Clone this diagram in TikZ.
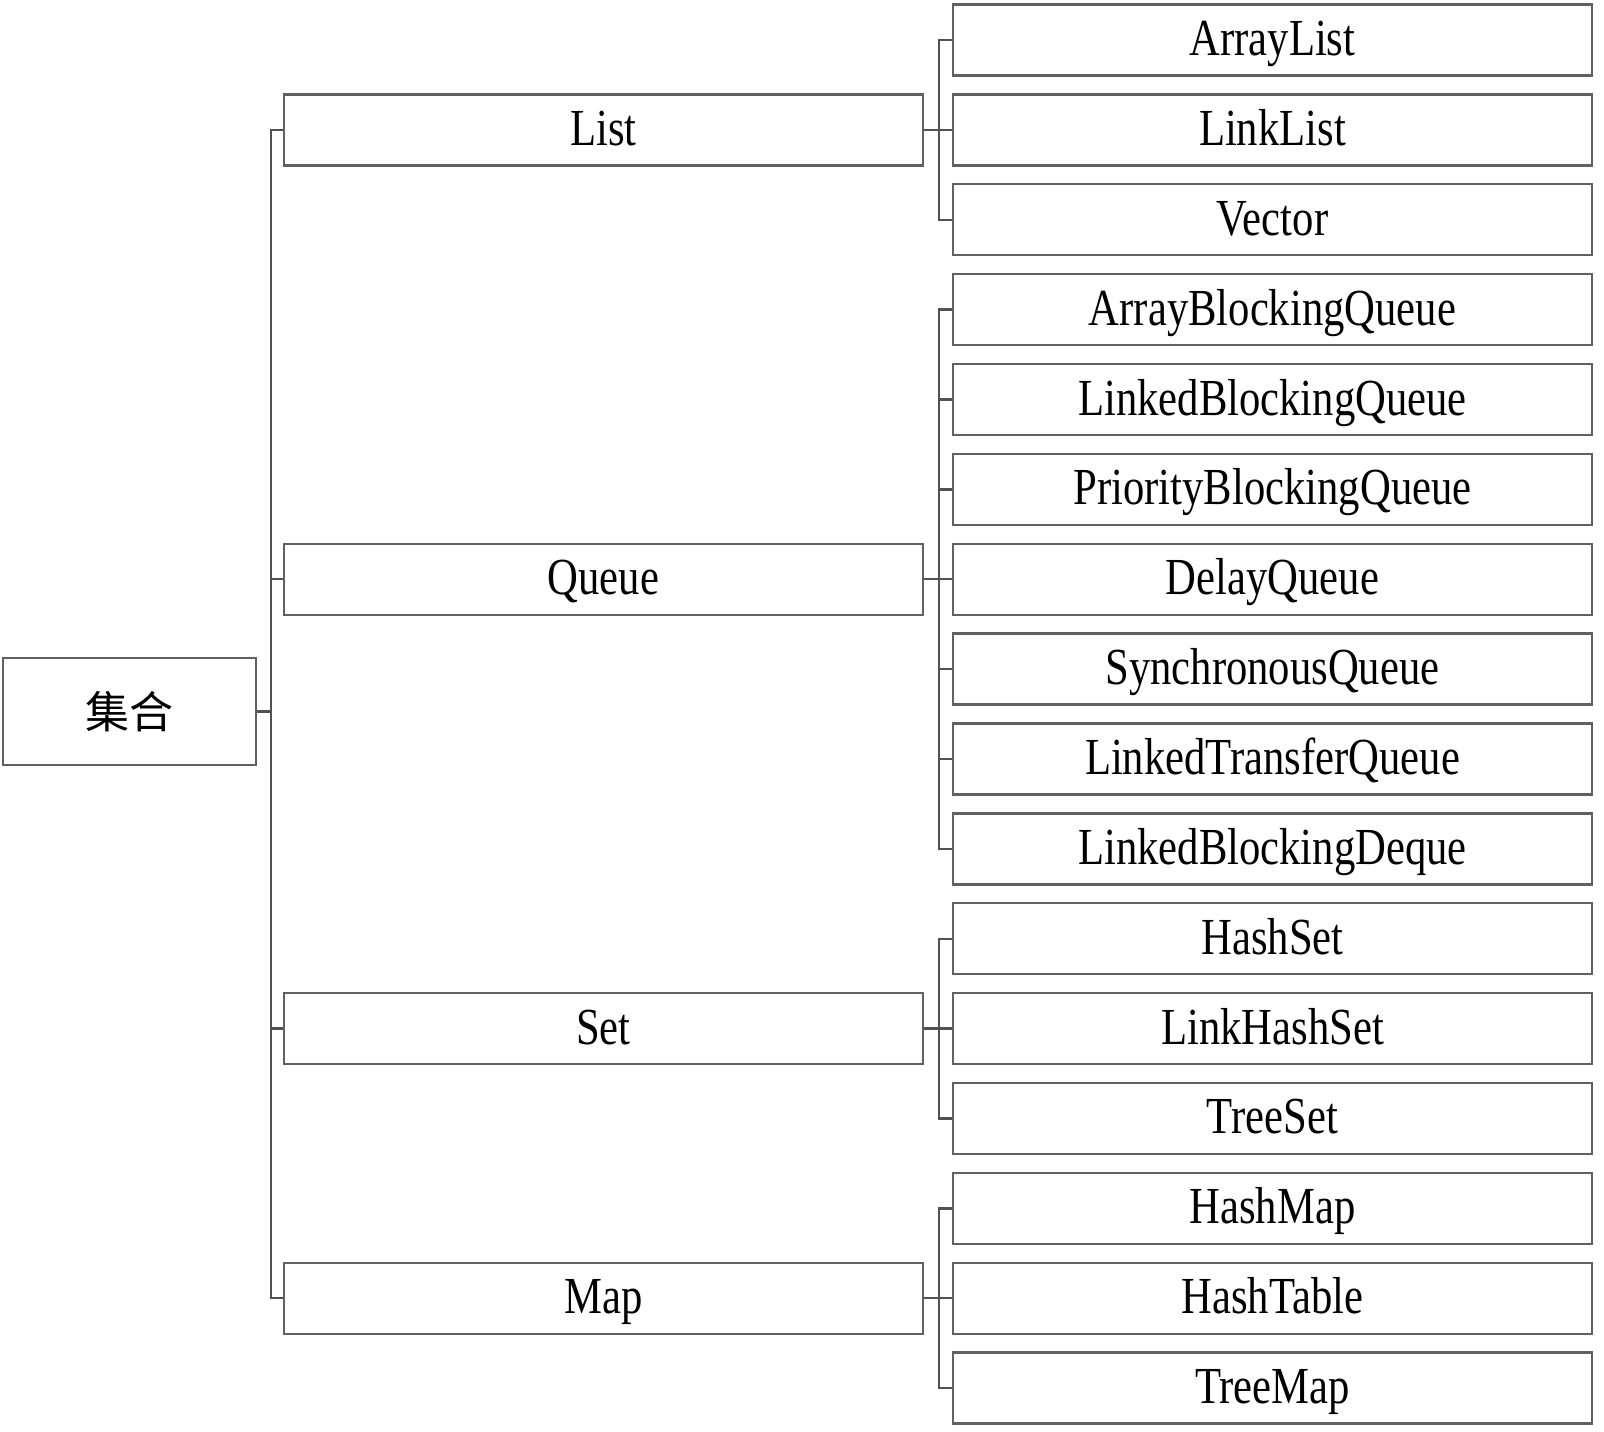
\documentclass[tikz,border=0pt]{standalone}
\usepackage{fontspec}
\setmainfont{Liberation Serif}[FakeStretch=0.82]
\newfontfamily\cjkfont{Noto Sans CJK SC}
\begin{document}
\begin{tikzpicture}[x=1pt,y=-1pt,
  box/.style={draw=black!62, line width=2.4pt, minimum width=639pt, minimum height=71pt,
    inner sep=0pt, text height=31pt, text depth=0pt, font=\fontsize{52}{58}\selectfont},
  rootbox/.style={draw=black!62, line width=2.4pt, minimum width=253pt, minimum height=107pt,
    inner sep=0pt, font=\cjkfont\fontsize{44}{50}\selectfont},
  conn/.style={draw=black!68, line width=2.4pt}]
\useasboundingbox (0,0) rectangle (1604,1432);
\node[rootbox] (root) at (129.5,711.5) {\raisebox{2pt}{集合}};
% middle level
\node[box] (list)  at (603.5,129.9) {List};
\node[box] (queue) at (603.5,579.2) {Queue};
\node[box] (set)   at (603.5,1028.6) {Set};
\node[box] (map)   at (603.5,1298.2) {Map};
% leaves
\node[box] (l0)  at (1272.5,40.0)   {ArrayList};
\node[box] (l1)  at (1272.5,129.9)  {LinkList};
\node[box] (l2)  at (1272.5,219.7)  {Vector};
\node[box] (l3)  at (1272.5,309.6)  {ArrayBlockingQueue};
\node[box] (l4)  at (1272.5,399.5)  {LinkedBlockingQueue};
\node[box] (l5)  at (1272.5,489.4)  {PriorityBlockingQueue};
\node[box] (l6)  at (1272.5,579.2)  {DelayQueue};
\node[box] (l7)  at (1272.5,669.1)  {SynchronousQueue};
\node[box] (l8)  at (1272.5,759.0)  {LinkedTransferQueue};
\node[box] (l9)  at (1272.5,848.8)  {LinkedBlockingDeque};
\node[box] (l10) at (1272.5,938.7)  {HashSet};
\node[box] (l11) at (1272.5,1028.6) {LinkHashSet};
\node[box] (l12) at (1272.5,1118.4) {TreeSet};
\node[box] (l13) at (1272.5,1208.3) {HashMap};
\node[box] (l14) at (1272.5,1298.2) {HashTable};
\node[box] (l15) at (1272.5,1388.0) {TreeMap};
% root connectors
\foreach \m in {list,queue,set,map}
  \draw[conn] (root.east) -- ++(13.5,0) |- (\m.west);
% group connectors
\foreach \l in {l0,l1,l2}
  \draw[conn] (list.east) -- ++(15,0) |- (\l.west);
\foreach \l in {l3,l4,l5,l6,l7,l8,l9}
  \draw[conn] (queue.east) -- ++(15,0) |- (\l.west);
\foreach \l in {l10,l11,l12}
  \draw[conn] (set.east) -- ++(15,0) |- (\l.west);
\foreach \l in {l13,l14,l15}
  \draw[conn] (map.east) -- ++(15,0) |- (\l.west);
\end{tikzpicture}
\end{document}
